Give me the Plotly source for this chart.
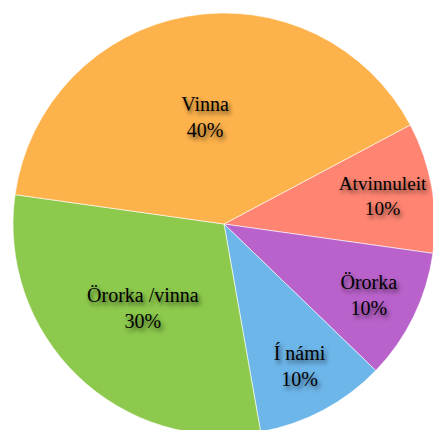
import plotly.graph_objects as go

labels = ["Atvinnuleit", "Örorka", "Í námi", "Örorka /vinna", "Vinna"]
values = [10, 10, 10, 30, 40]
colors = ["#FF8572", "#B962CB", "#6DB6EA", "#8CC94C", "#FDB24B"]

W, H = 435, 435
fig = go.Figure(go.Pie(
    labels=labels,
    values=values,
    sort=False,
    direction="clockwise",
    rotation=62,
    marker=dict(colors=colors, line=dict(color="rgba(255,255,255,0.6)", width=1)),
    texttemplate="%{label}<br>%{percent:.0%}",
    textposition="inside",
    insidetextorientation="horizontal",
    textfont=dict(family="Liberation Serif", size=20, color="#000000",
                  shadow="2px 3px 4px rgba(0,0,0,0.6)"),
    hoverinfo="label+percent",
    domain=dict(x=[13 / W, 1], y=[0, 1 - 13 / H]),
    showlegend=False,
))
fig.update_layout(
    width=W, height=H,
    margin=dict(l=0, r=0, t=0, b=0),
    paper_bgcolor="white",
    plot_bgcolor="white",
)
fig.write_html(
    "out.html",
    config={"displayModeBar": False},
    post_script="document.body.style.margin='0';document.body.style.overflow='hidden';",
)
